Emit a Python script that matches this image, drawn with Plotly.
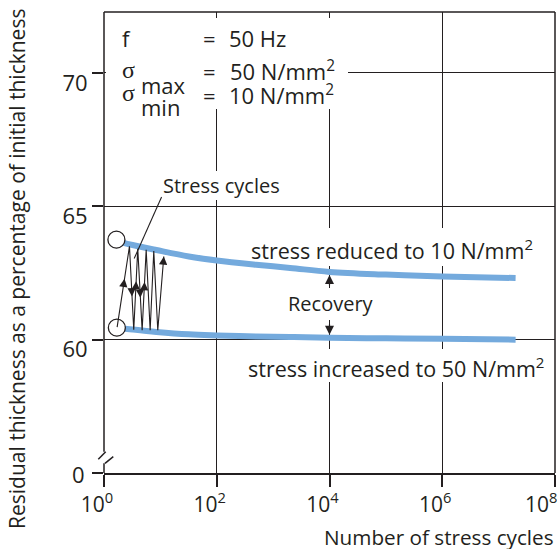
import plotly.graph_objects as go
import math

# ---------------- data ----------------
cycles_upper = [2, 3.2, 8.5, 32, 100, 500, 2000, 1e4, 1e5, 1e6, 2e7]
thick_upper = [63.66, 63.55, 63.36, 63.12, 62.97, 62.81, 62.69, 62.54, 62.44, 62.37, 62.31]
cycles_lower = [2, 3.2, 8.5, 32, 100, 500, 2000, 1e4, 1e5, 1e6, 2e7]
thick_lower = [60.43, 60.38, 60.29, 60.20, 60.16, 60.12, 60.10, 60.07, 60.05, 60.03, 60.00]
start_cycles = [1.66, 1.69]
start_thick = [63.75, 60.45]
zigzag_cycles = [1.71, 2.83, 3.37, 3.97, 4.75, 5.60, 6.59, 7.64, 8.99, 11.5]
zigzag_thick = [60.47, 63.50, 60.37, 63.41, 60.35, 63.37, 60.35, 63.32, 60.35, 63.12]
leader_cycles = [10.5, 3.43]
leader_thick = [65.35, 63.04]
recovery_cycles = 1e4
x_tickvals = [1, 1e2, 1e4, 1e6, 1e8]
x_ticktext = ["10<sup>0</sup>", "10<sup>2</sup>", "10<sup>4</sup>", "10<sup>6</sup>", ""]
x_last_label = "10<sup>8</sup>"
y_tickvals = [55, 60, 65, 70]
y_ticktext = ["", "60", "65", "70"]
y_break_label = "0"

# ---------------- style ----------------
INK = "#231f20"
BLUE = "#74aadd"
FONT = "Open Sans"
SERIF = "Liberation Serif"
W, H = 557, 549
ML, MR, MT, MB = 104, 2, 12, 76
PW, PH = W - ML - MR, H - MT - MB
XR = [0, 8]
YR = [55, 72.285]


def xp(px):
    return (px - ML) / PW


def yp(py):
    return (MT + PH - py) / PH


def xd(px):
    return 10 ** (XR[0] + (px - ML) / PW * (XR[1] - XR[0]))


def yd(py):
    return YR[0] + (MT + PH - py) / PH * (YR[1] - YR[0])


fig = go.Figure()

fig.add_trace(go.Scatter(x=cycles_upper, y=thick_upper, mode="lines",
                         line=dict(color=BLUE, width=6, shape="spline"), hoverinfo="skip"))
fig.add_trace(go.Scatter(x=cycles_lower, y=thick_lower, mode="lines",
                         line=dict(color=BLUE, width=6, shape="spline"), hoverinfo="skip"))
fig.add_trace(go.Scatter(x=start_cycles, y=start_thick, mode="markers",
                         marker=dict(symbol="circle", size=17, color="white",
                                     line=dict(color=INK, width=1.3)), hoverinfo="skip"))
fig.add_trace(go.Scatter(x=zigzag_cycles, y=zigzag_thick, mode="lines",
                         line=dict(color=INK, width=1.1), hoverinfo="skip"))
fig.add_trace(go.Scatter(x=leader_cycles, y=leader_thick, mode="lines",
                         line=dict(color=INK, width=1.1), hoverinfo="skip"))

annotations = []

# arrowheads on the stress-cycle zigzag
for seg, frac in [(0, 0.6), (1, 0.6), (2, 0.6), (3, 0.6), (4, 0.6), (8, 1.0)]:
    lx0, lx1 = math.log10(zigzag_cycles[seg]), math.log10(zigzag_cycles[seg + 1])
    y0, y1 = zigzag_thick[seg], zigzag_thick[seg + 1]
    tx, ty = lx0 + frac * (lx1 - lx0), y0 + frac * (y1 - y0)
    f2 = frac - 0.12
    sx, sy = lx0 + f2 * (lx1 - lx0), y0 + f2 * (y1 - y0)
    annotations.append(dict(x=tx, y=ty, ax=sx, ay=sy, axref="x", ayref="y", xref="x", yref="y",
                            text="", showarrow=True, arrowhead=2, arrowsize=1.5,
                            arrowwidth=1.1, arrowcolor=INK, standoff=0, startstandoff=0))

# recovery arrows
rec_lx = math.log10(recovery_cycles)
up_tip = thick_upper[cycles_upper.index(recovery_cycles)]
lo_tip = thick_lower[cycles_lower.index(recovery_cycles)]
half = 3 * (YR[1] - YR[0]) / PH
annotations.append(dict(x=rec_lx, y=up_tip - half, xref="x", yref="y", ax=0, ay=12,
                        text="", showarrow=True, arrowhead=2, arrowsize=1.5,
                        arrowwidth=1.2, arrowcolor=INK, standoff=0))
annotations.append(dict(x=rec_lx, y=lo_tip + half, xref="x", yref="y", ax=0, ay=-12,
                        text="", showarrow=True, arrowhead=2, arrowsize=1.5,
                        arrowwidth=1.2, arrowcolor=INK, standoff=0))


def txt(s, px, py, xa="left", size=20, angle=0, family=FONT):
    annotations.append(dict(text=s, x=xp(px), y=yp(py), xref="paper", yref="paper",
                            showarrow=False, xanchor=xa, yanchor="middle",
                            font=dict(family=family, size=size, color=INK),
                            textangle=angle, borderpad=0))


# parameter block
PS = 22
txt("f", 121, 38.5, size=PS)
txt("=", 209, 38.5, xa="center", size=PS)
txt("50 Hz", 228, 38.5, size=PS)
txt("σ", 121, 69.5, size=24, family=SERIF)
txt("max", 140, 85, size=PS)
txt("=", 209, 70.7, xa="center", size=PS)
txt("50 N/mm<sup>2</sup>", 229, 70.7, size=PS)
txt("σ", 121, 93.5, size=24, family=SERIF)
txt("min", 140, 107, size=PS)
txt("=", 209, 94.7, xa="center", size=PS)
txt("10 N/mm<sup>2</sup>", 228, 94.7, size=PS)

txt("Stress cycles", 221, 186, xa="center")
txt("stress reduced to 10 N/mm<sup>2</sup>", 392, 249, xa="center", size=21.5)
txt("Recovery", 330.5, 303.5, xa="center")
txt("stress increased to 50 N/mm<sup>2</sup>", 396, 367, xa="center", size=21.5)

# axis titles, broken-axis zero label, last x tick label (kept inside the page)
txt("Residual thickness as a percentage of initial thickness", 17, 269, xa="center",
    size=21, angle=-90)
txt("Number of stress cycles", 555, 537, xa="right", size=20.7)
txt(y_break_label, 86, 473.5, xa="right", size=22)
txt(x_last_label, 558, 502, xa="right", size=21)

line = dict(color=INK, width=1.5)


def mask(px0, px1, py0, py1):
    # white patch hiding grid lines behind a label (drawn under the traces)
    return dict(type="rect", xref="x", yref="y", x0=xd(px0), x1=xd(px1), y0=yd(py1), y1=yd(py0),
                fillcolor="white", line=dict(width=0), layer="between")


shapes = [
    # white box behind the parameter block
    dict(type="rect", xref="paper", yref="paper", x0=xp(106), x1=xp(348), y0=yp(109), y1=yp(18),
         fillcolor="white", line=dict(width=0), layer="above"),
    mask(158, 284, 171, 200),
    mask(248, 536, 228, 266),
    mask(286, 376, 288, 320),
    mask(243, 549, 349, 382),
    # frame: top and right
    dict(type="line", xref="paper", yref="paper", x0=0, x1=1, y0=1, y1=1, line=line, layer="above"),
    dict(type="line", xref="paper", yref="paper", x0=1, x1=1, y0=0, y1=1, line=line, layer="above"),
    # left axis with break
    dict(type="line", xref="paper", yref="y", x0=0, x1=0, y0=yd(451.7), y1=YR[1], line=line, layer="above"),
    dict(type="line", xref="paper", yref="y", x0=0, x1=0, y0=YR[0], y1=yd(463.3), line=line, layer="above"),
    dict(type="line", xref="paper", yref="y", x0=xp(98.3), x1=xp(105.7), y0=yd(459.3), y1=yd(451.7),
         line=line, layer="above"),
    dict(type="line", xref="paper", yref="y", x0=xp(105), x1=xp(113.3), y0=yd(463.3), y1=yd(456.7),
         line=line, layer="above"),
]

fig.update_layout(
    width=W, height=H, margin=dict(l=ML, r=MR, t=MT, b=MB),
    paper_bgcolor="white", plot_bgcolor="white", showlegend=False,
    annotations=annotations, shapes=shapes,
    font=dict(family=FONT, color=INK),
)
fig.update_xaxes(type="log", range=XR, tickvals=x_tickvals, ticktext=x_ticktext,
                 showgrid=True, gridcolor=INK, gridwidth=1.3, showline=True, linecolor=INK,
                 linewidth=1.5, ticks="outside", ticklen=12, tickwidth=1.5, tickcolor=INK,
                 tickfont=dict(family=FONT, size=21, color=INK), ticklabelshift=-7,
                 zeroline=False)
fig.update_yaxes(range=YR, tickvals=y_tickvals, ticktext=y_ticktext, showgrid=True,
                 gridcolor=INK, gridwidth=1.3, showline=False, ticks="outside", ticklen=11,
                 tickwidth=1.5, tickcolor=INK, tickfont=dict(family=FONT, size=22, color=INK),
                 ticklabelshift=10, zeroline=False)

fig.write_html("out.html")
